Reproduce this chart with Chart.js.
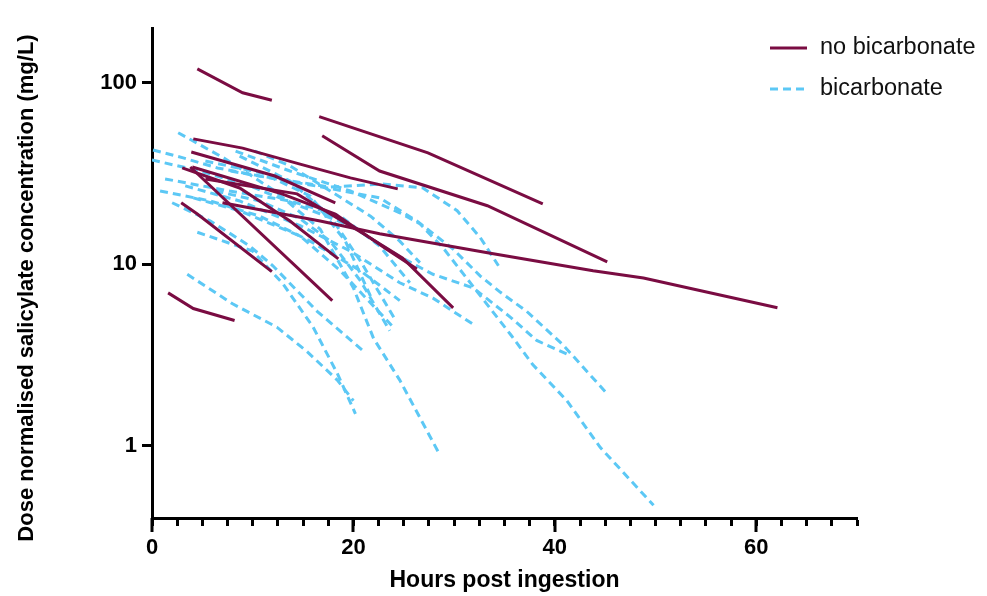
<!DOCTYPE html>
<html>
<head>
<meta charset="utf-8">
<script src="https://cdn.jsdelivr.net/npm/chart.js@4.4.0/dist/chart.umd.min.js"></script>
<style>
  html, body { margin: 0; padding: 0; background: #fff; }
  #wrap { width: 987px; height: 596px; }
</style>
</head>
<body>
<div id="wrap"><canvas id="chart" width="987" height="596"></canvas></div>
<script>
// Patients without bicarbonate: sampling times (h) and dose normalised levels (mg/L)
const noBicarbHours = [
  [4.5, 9.0, 11.9],
  [16.6, 27.4, 38.8],
  [16.9, 22.6, 33.3, 45.2],
  [4.1, 9.0, 14.7, 19.7, 24.4],
  [3.9, 12.2, 18.2],
  [4.0, 12.9, 18.2, 23.3, 26.3],
  [5.3, 14.4, 21.0, 24.9, 29.9],
  [7.0, 16.7, 22.6, 33.6, 43.8, 48.8, 62.1],
  [3.8, 17.9],
  [3.0, 8.7, 13.7, 18.5],
  [2.9, 4.5, 11.9],
  [1.6, 4.1, 8.2]
];
const noBicarbConc = [
  [119, 88, 80],
  [65, 41, 21.5],
  [51, 32.6, 21, 10.3],
  [49, 43.6, 35.6, 29.9, 26],
  [41.5, 30.6, 21.8],
  [34.3, 24.4, 18.9, 12.1, 9.4],
  [29.5, 24.4, 14.7, 10.8, 5.75],
  [21.8, 17.3, 14.7, 11.5, 9.2, 8.4, 5.75],
  [34.3, 6.3],
  [33.9, 26.3, 17.3, 10.7],
  [21.8, 18.9, 9.1],
  [6.95, 5.7, 4.9]
];

// Patients given bicarbonate
const bicarbHours = [
  [2.6, 7.3, 12.2, 16.7, 20.0, 22.0, 24.6, 28.4],
  [0.1, 3.1, 6.5, 10.7, 17.7, 22.9, 26.9, 30.3, 32.6, 34.4],
  [0, 4.8, 9.7, 14.7, 19.7, 24.6, 27.9, 31.9, 35.6, 38.2, 41.2],
  [3.3, 8.7, 14.7, 19.7, 24.6, 27.9, 31.8],
  [8.3, 13.7, 19.7, 24.6, 26.6, 28.9, 31.3, 35.6, 37.8, 41.2, 44.5, 49.8],
  [7.8, 17.4, 22.6, 26.3, 29.9, 32.6, 34.6, 37.2, 40.8, 45.2],
  [2.0, 5.8, 9.7, 12.0, 16.4, 21.2],
  [3.5, 8.0, 12.4, 15.4, 18.4, 20.0],
  [4.5, 10.0, 13.0, 16.0, 18.4, 20.2],
  [4.1, 8.7, 14.7, 18.7, 23.8],
  [8.7, 13.7, 17.7, 20.7, 24.1],
  [10.2, 13.7, 17.7, 21.7, 24.6, 26.6],
  [0.8, 5.8, 10.7, 15.7, 20.7, 24.6],
  [1.3, 7.7, 13.7, 18.7, 22.6, 25.6],
  [5.3, 10.9, 15.7, 19.2, 21.9],
  [6.3, 10.7, 14.7, 17.7, 20.7, 23.6]
];
const bicarbConc = [
  [53, 38, 25.3, 15.6, 7.4, 3.9, 2.3, 0.93],
  [42.6, 38.5, 33.9, 30.6, 26.6, 27.7, 26.3, 19.7, 14, 9.8],
  [37.5, 32.6, 27, 20.9, 16.3, 11, 8.8, 7.4, 5.1, 3.8, 3.2],
  [27, 22.3, 16.3, 11.8, 7.9, 6.5, 4.7],
  [42, 32.6, 25.3, 19.2, 16.7, 12.3, 8.3, 4.1, 2.8, 1.77, 0.98, 0.47],
  [32.6, 26.3, 23.2, 17.3, 12.1, 8.6, 7.0, 5.5, 3.6, 1.93],
  [21.8, 17.3, 12.6, 9.8, 5.5, 3.25],
  [8.8, 6.05, 4.5, 3.3, 2.3, 1.77],
  [15, 11.8, 7.8, 4.5, 2.5, 1.5],
  [23.2, 19.7, 14.3, 9.2, 4.6],
  [39.4, 28.7, 18.4, 10.4, 5.0],
  [42, 34.8, 25.3, 18.4, 13.4, 10.2],
  [25.3, 22.3, 18.4, 13.4, 9.2, 6.3],
  [29.5, 25.3, 22.3, 18.4, 12.6, 7.9],
  [37, 31.8, 23.8, 13.4, 6.3],
  [25.3, 22.3, 17.8, 13.4, 8.1, 4.3]
];

const xTickLabels = [0, 20, 40, 60];
const yTickLabels = [1, 10, 100];
const legendLabels = ["no bicarbonate", "bicarbonate"];
const xTitle = "Hours post ingestion";
const yTitle = "Dose normalised salicylate concentration (mg/L)";

const MAROON = "#7a0c42";
const LIGHTBLUE = "#5cc8f5";
const FONT = "'Liberation Sans', Arial, Helvetica, sans-serif";

function toPoints(hours, conc) {
  return hours.map(function(h, j) { return { x: h, y: conc[j] }; });
}

const datasets = [];
// maroon first so it is painted on top
noBicarbHours.forEach(function(hrs, i) {
  datasets.push({
    label: legendLabels[0],
    data: toPoints(hrs, noBicarbConc[i]),
    borderColor: MAROON,
    borderWidth: 3,
    pointRadius: 0,
    tension: 0,
    fill: false
  });
});
bicarbHours.forEach(function(hrs, i) {
  datasets.push({
    label: legendLabels[1],
    data: toPoints(hrs, bicarbConc[i]),
    borderColor: LIGHTBLUE,
    borderWidth: 3,
    borderDash: [8, 5],
    pointRadius: 0,
    tension: 0,
    fill: false
  });
});

// longer ticks at the labelled hours, y title and the legend
const extras = {
  id: "extras",
  afterDraw: function(chart) {
    const ctx = chart.ctx;
    const xs = chart.scales.x;
    const bottom = chart.chartArea.bottom;
    ctx.save();
    ctx.strokeStyle = "#000";
    ctx.lineWidth = 3;
    xTickLabels.forEach(function(v) {
      const px = Math.round(xs.getPixelForValue(v));
      ctx.beginPath();
      ctx.moveTo(px, bottom);
      ctx.lineTo(px, bottom + 14);
      ctx.stroke();
    });

    // y axis title, sits a bit lower than the plot centre
    ctx.save();
    ctx.translate(27, 288);
    ctx.rotate(-Math.PI / 2);
    ctx.font = "bold 22px " + FONT;
    ctx.fillStyle = "#000";
    ctx.textAlign = "center";
    ctx.textBaseline = "middle";
    ctx.fillText(yTitle, 0, 0);
    ctx.restore();

    const items = [
      { text: legendLabels[0], color: MAROON, dash: [], y: 48 },
      { text: legendLabels[1], color: LIGHTBLUE, dash: [8, 5], y: 89 }
    ];
    ctx.font = "23.5px " + FONT;
    ctx.textBaseline = "middle";
    ctx.textAlign = "left";
    items.forEach(function(it) {
      ctx.strokeStyle = it.color;
      ctx.lineWidth = 3;
      ctx.setLineDash(it.dash);
      ctx.beginPath();
      ctx.moveTo(770, it.y);
      ctx.lineTo(807, it.y);
      ctx.stroke();
      ctx.setLineDash([]);
      ctx.fillStyle = "#111";
      ctx.fillText(it.text, 820, it.y);
    });
    ctx.restore();
  }
};

const chart = new Chart(document.getElementById("chart"), {
  type: "line",
  data: { datasets: datasets },
  plugins: [extras],
  options: {
    responsive: false,
    animation: false,
    devicePixelRatio: 1,
    layout: { padding: { left: 0, right: 130, top: 28, bottom: 0 } },
    plugins: {
      legend: { display: false },
      tooltip: { enabled: false }
    },
    scales: {
      x: {
        type: "linear",
        min: 0,
        max: 70,
        afterFit: function(s) { s.height = 78; },
        ticks: {
          stepSize: 2.5,
          autoSkip: false,
          maxRotation: 0,
          padding: 9,
          color: "#000",
          font: { family: FONT, size: 22, weight: "bold" },
          callback: function(v) { return xTickLabels.indexOf(v) >= 0 ? String(v) : ""; }
        },
        grid: { drawOnChartArea: false, drawTicks: true, tickLength: 8, tickWidth: 3, tickColor: "#000" },
        border: { display: true, color: "#000", width: 3 },
        title: {
          display: true,
          text: xTitle,
          color: "#000",
          font: { family: FONT, size: 23, weight: "bold" },
          padding: { top: 0, bottom: 2 }
        }
      },
      y: {
        type: "logarithmic",
        min: 0.4,
        max: 200,
        afterFit: function(s) { s.width = 152; },
        afterBuildTicks: function(s) { s.ticks = yTickLabels.map(function(v) { return { value: v }; }); },
        ticks: {
          padding: 5,
          color: "#000",
          font: { family: FONT, size: 22, weight: "bold" },
          callback: function(v) { return String(v); }
        },
        grid: { drawOnChartArea: false, drawTicks: true, tickLength: 10, tickWidth: 3, tickColor: "#000" },
        border: { display: true, color: "#000", width: 3 },
        title: { display: false }
      }
    }
  }
});
</script>
</body>
</html>
